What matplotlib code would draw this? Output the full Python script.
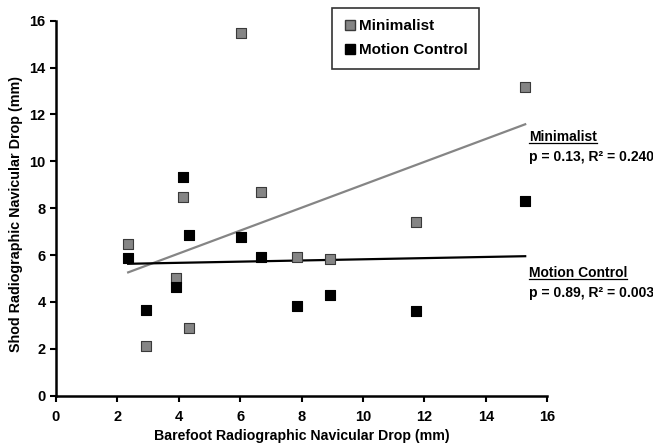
import numpy as np
import matplotlib
matplotlib.use("Agg")
import matplotlib.pyplot as plt
from matplotlib.lines import Line2D

plt.rcParams['font.family'] = ['Liberation Sans', 'DejaVu Sans']
plt.rcParams['font.weight'] = 'bold'

# Data
min_x = [2.35, 2.93, 3.91, 4.15, 4.33, 6.02, 6.67, 7.84, 8.93, 11.73, 15.28]
min_y = [6.47, 2.13, 5.03, 8.46, 2.87, 15.49, 8.68, 5.90, 5.85, 7.42, 13.18]
mc_x = [2.35, 2.93, 3.91, 4.15, 4.33, 6.03, 6.67, 7.84, 8.93, 11.73, 15.28]
mc_y = [5.87, 3.64, 4.64, 9.34, 6.87, 6.76, 5.93, 3.84, 4.28, 3.63, 8.32]

x_ticks = [0, 2, 4, 6, 8, 10, 12, 14, 16]
y_ticks = [0, 2, 4, 6, 8, 10, 12, 14, 16]

series_names = ["Minimalist", "Motion Control"]
stats_text = ["p = 0.13, R\u00b2 = 0.240", "p = 0.89, R\u00b2 = 0.003"]

fig = plt.figure(figsize=(6.53, 4.48), dpi=100)
ax = fig.add_axes([56/653, 1-395.7/448, (547.3-56)/653, (395.7-20.7)/448])

gray = '#858585'
# trend lines
for xs, ys, col in [(min_x, min_y, gray), (mc_x, mc_y, 'black')]:
    m, b = np.polyfit(xs, ys, 1)
    xx = np.array([min(xs), max(xs)])
    ax.plot(xx, m*xx + b, color=col, lw=1.6, zorder=2)

ax.scatter(min_x, min_y, marker='s', s=55, facecolor=gray, edgecolor='#3a3a3a', linewidths=0.8, zorder=3)
ax.scatter(mc_x, mc_y, marker='s', s=55, facecolor='black', edgecolor='black', linewidths=0.8, zorder=3)

ax.set_xlim(0, 16)
ax.set_ylim(0, 16)
ax.set_xticks(x_ticks)
ax.set_yticks(y_ticks)
ax.tick_params(direction='out', length=4, width=1.5, labelsize=10.5)
ax.tick_params(axis='x', pad=6)
ax.tick_params(axis='y', pad=3.5)
for lbl in ax.get_xticklabels() + ax.get_yticklabels():
    lbl.set_fontweight('bold')
ax.spines['top'].set_visible(False)
ax.spines['right'].set_visible(False)
ax.spines['left'].set_linewidth(1.8)
ax.spines['bottom'].set_linewidth(1.8)

ax.set_xlabel("Barefoot Radiographic Navicular Drop (mm)", fontsize=10.2, fontweight='bold', labelpad=4)
ax.set_ylabel("Shod Radiographic Navicular Drop (mm)", fontsize=10.3, fontweight='bold')
ax.yaxis.set_label_coords(-0.068, 0.485)

handles = [Line2D([], [], marker='s', ls='', markersize=7.2, markerfacecolor=gray, markeredgecolor='#3a3a3a'),
           Line2D([], [], marker='s', ls='', markersize=7.2, markerfacecolor='black', markeredgecolor='black')]
leg = fig.legend(handles, series_names, loc='upper left', bbox_to_anchor=(332/653, 1-8/448),
                 frameon=True, fancybox=False, edgecolor='black',
                 prop={'weight': 'bold', 'size': 11}, handlelength=0.8, handletextpad=0.2,
                 labelspacing=0.65, borderpad=0.75, borderaxespad=0)
leg.get_frame().set_linewidth(1.2)

# annotations
ann = []
for name, st, y_name, y_st in [(series_names[0], stats_text[0], 137.3, 157.0),
                               (series_names[1], stats_text[1], 273.3, 293.3)]:
    t1 = fig.text(529/653, 1-y_name/448, name, fontsize=10, fontweight='bold', va='center', ha='left')
    fig.text(529/653, 1-y_st/448, st, fontsize=10, fontweight='bold', va='center', ha='left')
    ann.append(t1)

fig.canvas.draw()
r = fig.canvas.get_renderer()
for t in ann:
    bb = t.get_window_extent(renderer=r)
    yl = (bb.y0 + 1.5) / fig.bbox.height
    fig.add_artist(Line2D([bb.x0/fig.bbox.width, bb.x1/fig.bbox.width], [yl, yl],
                          color='black', lw=0.9, transform=fig.transFigure))

fig.savefig("out.png", dpi=100)
